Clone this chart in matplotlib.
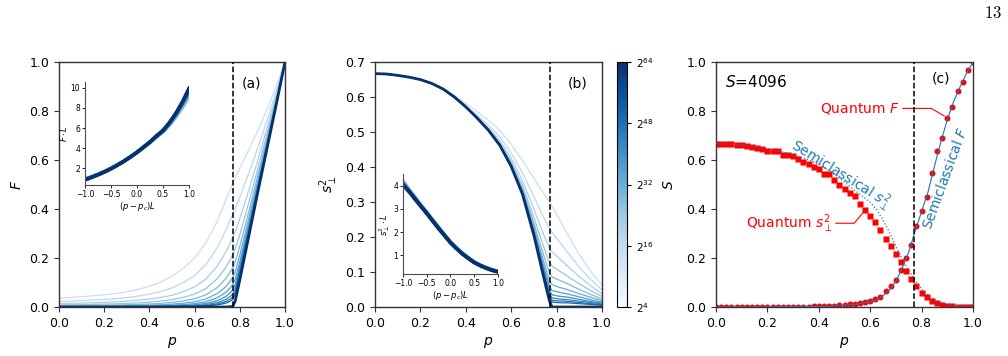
import matplotlib
matplotlib.use("Agg")
import matplotlib.pyplot as plt
import numpy as np
from matplotlib.colors import Normalize
from matplotlib.cm import ScalarMappable

plt.rcParams.update({"font.family": "DejaVu Sans", "mathtext.fontset": "dejavusans"})

P_CRIT = 0.771

# ---- panel (a): F(p), one curve per S, lightest (small S) first, darkest (largest S) last
P_A = [0.0, 0.05, 0.1, 0.15, 0.2, 0.25, 0.3, 0.35, 0.4, 0.45, 0.5, 0.55, 0.6, 0.65, 0.7,
       0.72, 0.74, 0.76, 0.77, 0.78, 0.8, 0.82, 0.84, 0.88, 0.92, 0.96, 1.0]
F_CURVES = [
    [0.036, 0.039, 0.042, 0.046, 0.050, 0.055, 0.062, 0.072, 0.085, 0.102, 0.125, 0.158, 0.200, 0.262, 0.350,
     0.395, 0.440, 0.485, 0.507, 0.528, 0.567, 0.605, 0.642, 0.720, 0.805, 0.898, 1.0],
    [0.0223, 0.0242, 0.026, 0.0285, 0.031, 0.0341, 0.0384, 0.0446, 0.0527, 0.0632, 0.0775, 0.0995, 0.128, 0.173, 0.2415,
     0.2785, 0.3168, 0.3592, 0.3813, 0.4023, 0.4482, 0.4977, 0.547, 0.650, 0.7602, 0.8762, 1.0],
    [0.0138, 0.0150, 0.0161, 0.0177, 0.0192, 0.0211, 0.0238, 0.0276, 0.0326, 0.0392, 0.048, 0.0627, 0.082, 0.114, 0.1666,
     0.1963, 0.2279, 0.2662, 0.2869, 0.3079, 0.3604, 0.4187, 0.4776, 0.5995, 0.7279, 0.8604, 1.0],
    [0.0086, 0.0093, 0.0100, 0.0109, 0.0119, 0.0131, 0.0148, 0.0171, 0.0202, 0.0243, 0.0298, 0.0395, 0.0524, 0.0752, 0.1152,
     0.1383, 0.1641, 0.197, 0.2163, 0.2373, 0.2951, 0.3608, 0.4269, 0.5633, 0.7047, 0.8491, 1.0],
    [0.0053, 0.0058, 0.0062, 0.0068, 0.0074, 0.0081, 0.0092, 0.0107, 0.0126, 0.0151, 0.0185, 0.025, 0.0336, 0.0498, 0.0795,
     0.0976, 0.1184, 0.1462, 0.163, 0.184, 0.2471, 0.3183, 0.390, 0.5373, 0.688, 0.841, 1.0],
    [0.0033, 0.0036, 0.0038, 0.0042, 0.0046, 0.005, 0.0057, 0.0066, 0.0078, 0.0093, 0.0115, 0.0157, 0.0214, 0.0328, 0.0546,
     0.0687, 0.0849, 0.1084, 0.1232, 0.1442, 0.2115, 0.2871, 0.3629, 0.5183, 0.6759, 0.8351, 1.0],
    [0.002, 0.0022, 0.0024, 0.0026, 0.0028, 0.0031, 0.0035, 0.0041, 0.0048, 0.0058, 0.0071, 0.0099, 0.0137, 0.0217, 0.0378,
     0.0486, 0.0612, 0.0804, 0.0935, 0.1145, 0.1849, 0.264, 0.3432, 0.5048, 0.6672, 0.8308, 1.0],
    [0.0013, 0.0014, 0.0015, 0.0016, 0.0018, 0.0019, 0.0022, 0.0025, 0.003, 0.0036, 0.0044, 0.0062, 0.0088, 0.0143, 0.0261,
     0.0342, 0.044, 0.060, 0.0709, 0.0919, 0.1658, 0.247, 0.3287, 0.495, 0.661, 0.8278, 1.0],
    [0.0008, 0.0009, 0.0009, 0.001, 0.0011, 0.0012, 0.0014, 0.0016, 0.0019, 0.0022, 0.0027, 0.0039, 0.0056, 0.0094, 0.018,
     0.0241, 0.0318, 0.0446, 0.0543, 0.0753, 0.1511, 0.2345, 0.3184, 0.4881, 0.6566, 0.8256, 1.0],
    [0.0005, 0.0005, 0.0006, 0.0006, 0.0007, 0.0007, 0.0008, 0.001, 0.0011, 0.0014, 0.0017, 0.0025, 0.0036, 0.0062, 0.0124,
     0.017, 0.0229, 0.0332, 0.0417, 0.0627, 0.1404, 0.2254, 0.3107, 0.483, 0.6533, 0.8241, 1.0],
    [0.0003, 0.0003, 0.0004, 0.0004, 0.0004, 0.0005, 0.0005, 0.0006, 0.0007, 0.0009, 0.0011, 0.0015, 0.0023, 0.0041, 0.0086,
     0.012, 0.0165, 0.0248, 0.0323, 0.0533, 0.1325, 0.2186, 0.3051, 0.4794, 0.651, 0.8229, 1.0],
    [0.0, 0.0, 0.0, 0.0, 0.0, 0.0, 0.0, 0.0, 0.0, 0.0, 0.0, 0.0, 0.0, 0.0, 0.0,
     0.0, 0.0, 0.001, 0.004, 0.025, 0.110, 0.200, 0.290, 0.470, 0.645, 0.820, 1.0],
]

# insets: x axis is (p - p_c) L
X_IN = [-1.0, -0.875, -0.75, -0.625, -0.5, -0.375, -0.25, -0.125, 0.0,
        0.125, 0.25, 0.375, 0.5, 0.625, 0.75, 0.875, 1.0]
FL_CURVES = [
    [0.96, 1.17, 1.42, 1.70, 2.02, 2.36, 2.74, 3.13, 3.58, 4.05, 4.55, 5.10, 5.60, 6.30, 7.10, 8.05, 9.10],
    [0.93, 1.15, 1.40, 1.68, 2.00, 2.34, 2.74, 3.14, 3.60, 4.07, 4.58, 5.15, 5.68, 6.40, 7.25, 8.30, 9.40],
    [0.90, 1.13, 1.39, 1.67, 1.97, 2.35, 2.71, 3.16, 3.59, 4.11, 4.61, 5.20, 5.72, 6.47, 7.38, 8.45, 9.65],
    [0.88, 1.12, 1.37, 1.64, 1.99, 2.31, 2.73, 3.12, 3.62, 4.08, 4.65, 5.18, 5.78, 6.50, 7.45, 8.55, 9.80],
    [0.86, 1.10, 1.36, 1.66, 1.96, 2.33, 2.70, 3.15, 3.58, 4.12, 4.62, 5.24, 5.75, 6.56, 7.50, 8.62, 9.95],
]

# ---- panel (b): s_perp^2(p)
P_B = [0.0, 0.05, 0.1, 0.15, 0.2, 0.25, 0.3, 0.35, 0.4, 0.45, 0.5, 0.55, 0.6, 0.65, 0.7,
       0.72, 0.74, 0.76, 0.77, 0.78, 0.8, 0.825, 0.85, 0.9, 0.95, 1.0]
S2_CURVES = [
    [0.667, 0.666, 0.663, 0.658, 0.651, 0.641, 0.626, 0.605, 0.582, 0.558, 0.534, 0.505, 0.465, 0.418, 0.368,
     0.348, 0.328, 0.308, 0.298, 0.288, 0.266, 0.236, 0.207, 0.150, 0.102, 0.063],
    [0.667, 0.666, 0.662, 0.657, 0.650, 0.640, 0.624, 0.602, 0.576, 0.548, 0.520, 0.486, 0.440, 0.383, 0.316,
     0.288, 0.260, 0.234, 0.222, 0.213, 0.197, 0.176, 0.155, 0.114, 0.079, 0.049],
    [0.667, 0.666, 0.662, 0.657, 0.650, 0.639, 0.623, 0.601, 0.574, 0.544, 0.512, 0.475, 0.425, 0.361, 0.280,
     0.246, 0.212, 0.181, 0.166, 0.158, 0.146, 0.131, 0.116, 0.087, 0.061, 0.038],
    [0.667, 0.666, 0.662, 0.657, 0.650, 0.639, 0.623, 0.600, 0.573, 0.542, 0.509, 0.469, 0.416, 0.347, 0.256,
     0.217, 0.178, 0.142, 0.125, 0.117, 0.108, 0.098, 0.087, 0.066, 0.047, 0.030],
    [0.667, 0.666, 0.662, 0.657, 0.650, 0.639, 0.623, 0.600, 0.572, 0.541, 0.507, 0.466, 0.410, 0.338, 0.240,
     0.196, 0.154, 0.114, 0.095, 0.086, 0.080, 0.073, 0.066, 0.050, 0.036, 0.023],
    [0.667, 0.666, 0.662, 0.657, 0.650, 0.639, 0.623, 0.600, 0.572, 0.540, 0.506, 0.464, 0.407, 0.332, 0.229,
     0.182, 0.136, 0.094, 0.074, 0.064, 0.059, 0.054, 0.049, 0.038, 0.028, 0.018],
    [0.667, 0.666, 0.662, 0.657, 0.650, 0.639, 0.623, 0.600, 0.572, 0.540, 0.505, 0.463, 0.405, 0.329, 0.221,
     0.172, 0.124, 0.079, 0.058, 0.047, 0.044, 0.040, 0.037, 0.029, 0.021, 0.014],
    [0.667, 0.666, 0.662, 0.657, 0.650, 0.639, 0.623, 0.600, 0.572, 0.540, 0.505, 0.463, 0.404, 0.326, 0.216,
     0.166, 0.115, 0.068, 0.046, 0.035, 0.032, 0.030, 0.028, 0.022, 0.016, 0.011],
    [0.667, 0.666, 0.662, 0.657, 0.650, 0.639, 0.623, 0.600, 0.572, 0.540, 0.505, 0.462, 0.403, 0.325, 0.213,
     0.161, 0.109, 0.060, 0.038, 0.026, 0.024, 0.022, 0.021, 0.017, 0.013, 0.0086],
    [0.667, 0.666, 0.662, 0.657, 0.650, 0.639, 0.623, 0.600, 0.572, 0.540, 0.505, 0.462, 0.403, 0.324, 0.210,
     0.158, 0.105, 0.055, 0.032, 0.019, 0.018, 0.017, 0.016, 0.013, 0.0097, 0.0067],
    [0.667, 0.666, 0.662, 0.657, 0.650, 0.639, 0.623, 0.600, 0.572, 0.540, 0.505, 0.462, 0.402, 0.323, 0.208,
     0.155, 0.102, 0.051, 0.027, 0.014, 0.013, 0.012, 0.012, 0.0096, 0.0075, 0.0053],
    [0.667, 0.666, 0.662, 0.657, 0.650, 0.639, 0.623, 0.600, 0.572, 0.540, 0.505, 0.462, 0.402, 0.322, 0.205,
     0.150, 0.094, 0.040, 0.015, 0.0, 0.0, 0.0, 0.0, 0.0, 0.0, 0.0],
]

S2L_CURVES = [
    [4.20, 3.85, 3.52, 3.18, 2.87, 2.53, 2.21, 1.89, 1.59, 1.33, 1.10, 0.90, 0.72, 0.59, 0.48, 0.39, 0.32],
    [4.15, 3.80, 3.49, 3.15, 2.84, 2.51, 2.19, 1.88, 1.57, 1.31, 1.09, 0.89, 0.71, 0.58, 0.47, 0.38, 0.31],
    [4.10, 3.78, 3.44, 3.14, 2.81, 2.50, 2.16, 1.87, 1.55, 1.31, 1.07, 0.89, 0.70, 0.57, 0.46, 0.37, 0.30],
    [4.06, 3.74, 3.46, 3.11, 2.83, 2.47, 2.18, 1.84, 1.56, 1.29, 1.08, 0.87, 0.70, 0.56, 0.46, 0.37, 0.30],
    [4.02, 3.76, 3.42, 3.12, 2.80, 2.49, 2.15, 1.86, 1.54, 1.30, 1.06, 0.88, 0.69, 0.57, 0.45, 0.36, 0.29],
]

CBAR_TICKS = [0, 16, 32, 48, 64]
CBAR_LABELS = ["$2^{4}$", "$2^{16}$", "$2^{32}$", "$2^{48}$", "$2^{64}$"]

# ---- panel (c): S = 4096
P_Q = [0.00, 0.02, 0.04, 0.06, 0.08, 0.10, 0.12, 0.14, 0.16, 0.18, 0.20, 0.22, 0.24, 0.26, 0.28,
       0.30, 0.32, 0.34, 0.36, 0.38, 0.40, 0.42, 0.44, 0.46, 0.48, 0.50, 0.52, 0.54, 0.56, 0.58,
       0.60, 0.62, 0.64, 0.66, 0.68, 0.70, 0.72, 0.74, 0.76, 0.78, 0.80, 0.82, 0.84, 0.86, 0.88,
       0.90, 0.92, 0.94, 0.96, 0.98, 1.00]
QUANTUM_F = [0.0, 0.0, 0.0, 0.0, 0.0, 0.0, 0.0002, 0.0003, 0.0003, 0.0004, 0.0005, 0.0006, 0.0007, 0.0008, 0.001,
             0.0012, 0.0014, 0.0017, 0.002, 0.0024, 0.003, 0.0036, 0.0044, 0.0055, 0.0068, 0.0085, 0.0105, 0.013, 0.016, 0.020,
             0.025, 0.031, 0.042, 0.065, 0.087, 0.112, 0.152, 0.200, 0.254, 0.331, 0.392, 0.449, 0.549, 0.637, 0.691,
             0.773, 0.816, 0.880, 0.918, 0.966, 1.0]
QUANTUM_S2 = [0.667, 0.667, 0.665, 0.664, 0.662, 0.661, 0.658, 0.653, 0.649, 0.645, 0.639, 0.635, 0.635, 0.622, 0.622,
              0.615, 0.605, 0.592, 0.585, 0.573, 0.562, 0.544, 0.544, 0.517, 0.500, 0.483, 0.465, 0.453, 0.422, 0.395,
              0.371, 0.349, 0.313, 0.278, 0.250, 0.218, 0.182, 0.146, 0.113, 0.085, 0.059, 0.040, 0.025, 0.015, 0.009,
              0.005, 0.003, 0.002, 0.001, 0.0005, 0.0]
P_SC = [0.0, 0.1, 0.2, 0.3, 0.35, 0.4, 0.45, 0.5, 0.55, 0.6, 0.625, 0.65, 0.675, 0.7, 0.725,
        0.75, 0.775, 0.8, 0.825, 0.85, 0.875, 0.9, 0.925, 0.95, 0.975, 1.0]
SEMI_F = [0.0, 0.0, 0.0005, 0.001, 0.0015, 0.0025, 0.004, 0.007, 0.012, 0.022, 0.031, 0.046, 0.070, 0.105, 0.160,
          0.225, 0.310, 0.390, 0.470, 0.575, 0.675, 0.765, 0.840, 0.900, 0.955, 1.0]
SEMI_S2 = [0.667, 0.662, 0.648, 0.622, 0.605, 0.584, 0.550, 0.510, 0.468, 0.428, 0.398, 0.355, 0.305, 0.248, 0.195,
           0.150, 0.108, 0.074, 0.048, 0.031, 0.019, 0.012, 0.007, 0.004, 0.002, 0.001]

RED = "#ff0000"
SEMI = "#1f77b4"

blues = plt.get_cmap("Blues")
n_curves = len(F_CURVES)
curve_cols = [blues(v) for v in np.linspace(0.22, 0.8, n_curves - 1)] + [blues(1.0)]
inset_cols = [blues(v) for v in np.linspace(0.4, 1.0, len(FL_CURVES))]

fig = plt.figure(figsize=(10.08, 3.56), dpi=100)
ax_a = fig.add_axes([0.0585, 0.1376, 0.2242, 0.688])
ax_b = fig.add_axes([0.3720, 0.1376, 0.2252, 0.688])
cax = fig.add_axes([0.6121, 0.1376, 0.0099, 0.688])
ax_c = fig.add_axes([0.7103, 0.1376, 0.2550, 0.688])


def style_main(ax):
    for s in ax.spines.values():
        s.set_color("0.2")
        s.set_linewidth(1.0)
    ax.tick_params(labelsize=9, length=3.5, color="0.2")
    ax.set_xlim(0, 1)
    ax.set_xticks([0, 0.2, 0.4, 0.6, 0.8, 1.0])
    ax.set_xlabel("$p$", fontsize=10)
    ax.axvline(P_CRIT, color="k", ls="--", lw=1.1, zorder=5)


def style_inset(ax):
    ax.spines["top"].set_visible(False)
    ax.spines["right"].set_visible(False)
    for s in ["left", "bottom"]:
        ax.spines[s].set_color("0.3")
        ax.spines[s].set_linewidth(0.8)
    ax.tick_params(labelsize=5.5, length=2, width=0.6, pad=1.5)
    ax.set_xlim(-1, 1)
    ax.set_xticks([-1, -0.5, 0, 0.5, 1])
    ax.set_xlabel("$(p-p_c)L$", fontsize=6, labelpad=1)


# (a)
for vals, col in zip(F_CURVES, curve_cols):
    lw = 2.0 if vals is F_CURVES[-1] else 0.9
    ax_a.plot(P_A, vals, color=col, lw=lw)
style_main(ax_a)
ax_a.set_ylim(0, 1)
ax_a.set_yticks([0, 0.2, 0.4, 0.6, 0.8, 1.0])
ax_a.set_ylabel("$F$", fontsize=10)
ax_a.text(0.854, 0.914, "(a)", transform=ax_a.transAxes, ha="center", va="center", fontsize=10)

in_a = fig.add_axes([0.0843, 0.4803, 0.1032, 0.290])
for vals, col in zip(FL_CURVES, inset_cols):
    in_a.plot(X_IN, vals, color=col, lw=2.6, solid_joinstyle="miter")
style_inset(in_a)
in_a.set_ylim(0.35, 10.6)
in_a.set_yticks([2, 4, 6, 8, 10])
in_a.set_ylabel(r"$F\cdot L$", fontsize=6, labelpad=1)

# (b)
for vals, col in zip(S2_CURVES, curve_cols):
    lw = 2.0 if vals is S2_CURVES[-1] else 0.9
    ax_b.plot(P_B, vals, color=col, lw=lw)
style_main(ax_b)
ax_b.set_ylim(0, 0.7)
ax_b.set_yticks([0, 0.1, 0.2, 0.3, 0.4, 0.5, 0.6, 0.7])
ax_b.set_ylabel(r"$s_{\perp}^{2}$", fontsize=10)
ax_b.text(0.894, 0.914, "(b)", transform=ax_b.transAxes, ha="center", va="center", fontsize=10)

in_b = fig.add_axes([0.3998, 0.2303, 0.0942, 0.281])
for vals, col in zip(S2L_CURVES, inset_cols):
    in_b.plot(X_IN, vals, color=col, lw=2.6, solid_joinstyle="miter")
style_inset(in_b)
in_b.set_ylim(0.2, 4.5)
in_b.set_yticks([1, 2, 3, 4])
in_b.set_ylabel(r"$s_{\perp}^{2}\cdot L$", fontsize=6, labelpad=1)

# colorbar
sm = ScalarMappable(norm=Normalize(CBAR_TICKS[0], CBAR_TICKS[-1]), cmap=blues)
cb = fig.colorbar(sm, cax=cax, ticks=CBAR_TICKS)
cb.set_ticklabels(CBAR_LABELS)
cb.outline.set_linewidth(0.8)
cax.tick_params(labelsize=7.5, length=3)
cax.set_ylabel("$S$", fontsize=10, labelpad=6)

# (c)
ax_c.plot(P_Q, QUANTUM_F, "o", color=RED, ms=4.3, mec="none", zorder=2)
ax_c.plot(P_Q, QUANTUM_S2, "s", color=RED, ms=4.1, mec="none", zorder=2)
ax_c.plot(P_SC, SEMI_F, "-", color=SEMI, lw=0.8, zorder=3)
ax_c.plot(P_SC, SEMI_S2, ":", color=SEMI, lw=0.9, zorder=3)
style_main(ax_c)
ax_c.set_ylim(0, 1)
ax_c.set_yticks([0, 0.2, 0.4, 0.6, 0.8, 1.0])
ax_c.text(0.035, 0.92, "$S$=4096", ha="left", va="center", fontsize=11)
ax_c.text(0.874, 0.933, "(c)", ha="center", va="center", fontsize=10)
ax_c.text(0.486, 0.538, r"Semiclassical $s_{\perp}^{2}$", color=SEMI, fontsize=10,
          rotation=-32, rotation_mode="anchor", ha="center", va="center")
ax_c.text(0.894, 0.527, "Semiclassical $F$", color=SEMI, fontsize=10,
          rotation=70, rotation_mode="anchor", ha="center", va="center")
ax_c.annotate("Quantum $F$", xy=(0.90, 0.773), xytext=(0.715, 0.811), color=RED, fontsize=10,
              ha="right", va="center",
              arrowprops=dict(arrowstyle="-", color=RED, lw=0.8, shrinkA=0, shrinkB=2.5,
                              connectionstyle="angle,angleA=0,angleB=-30,rad=0"))
ax_c.annotate(r"Quantum $s_{\perp}^{2}$", xy=(0.58, 0.395), xytext=(0.455, 0.342), color=RED, fontsize=10,
              ha="right", va="center",
              arrowprops=dict(arrowstyle="-", color=RED, lw=0.8, shrinkA=0, shrinkB=2.5,
                              connectionstyle="angle,angleA=0,angleB=50,rad=0"))

fig.text(1002 / 1008, 1 - 13 / 356, "$13$", ha="right", va="center", fontsize=12, math_fontfamily="cm")

fig.savefig("out.png", dpi=100)
